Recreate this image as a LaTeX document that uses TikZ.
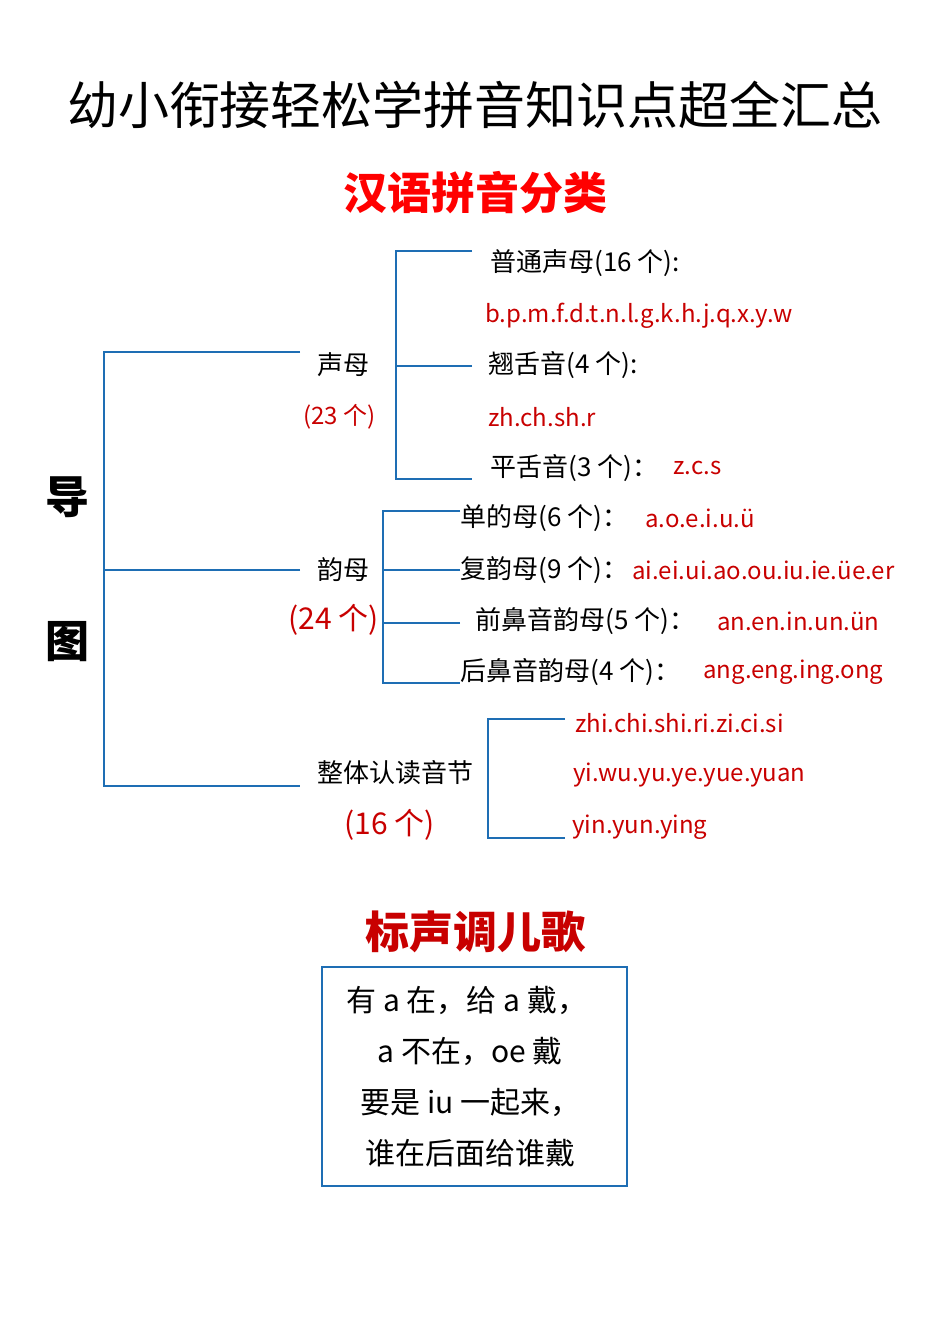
\documentclass[tikz,border=0pt]{standalone}
\usepackage{fontspec}
\setmainfont{Noto Sans CJK SC}
\usetikzlibrary{positioning}
\definecolor{lineblue}{RGB}{30,110,180}
\definecolor{pyred}{RGB}{200,0,0}
\tikzset{
    br/.style={draw=lineblue, line width=1.3pt}, % bracket lines
    t/.style={anchor=west, inner sep=0pt, font=\fontsize{13}{15}\selectfont}, % black labels
    r/.style={style=t, text=pyred, font=\fontsize{12}{14}\selectfont}, % red pinyin
    head/.style={inner sep=0pt, font=\fontsize{22}{26}\selectfont\bfseries, text=pyred}
}
\begin{document}
\begin{tikzpicture}[x=0.5pt, y=-0.5pt]
        \useasboundingbox (0,0) rectangle (950,1344);
        \node[inner sep=0pt, font=\fontsize{25.5}{30}\selectfont] (title) at (475,105)
        {幼小衔接轻松学拼音知识点超全汇总};
        \node[head, text=red] (cls) at (475,193) {汉语拼音分类};
        \node[inner sep=0pt, font=\fontsize{22}{26}\selectfont\bfseries] (dao) at (68,497) {导};
        \node[inner sep=0pt, font=\fontsize{22}{26}\selectfont\bfseries] (tu) at (68,642) {图};

        % first level
        \coordinate (m1) at (300,352);
        \coordinate (m2) at (300,570);
        \coordinate (m3) at (300,786);
        \coordinate (mt) at (104,352);
        \coordinate (mb) at (104,786);
        \draw[br] (m1) -- (mt) -- (mb) -- (m3);
        \draw[br] (m2) -- (m2 -| mt);
        \node[t] (sm) at (317,365) {声母};
        \node[r] (smn) at (303,417) {(23 个)};
        \node[t] (ym) at (317,570) {韵母};
        \node[r, font=\fontsize{15}{17}\selectfont] (ymn) at (288,620) {(24 个)};
        \node[t] (zt) at (317,773) {整体认读音节};
        \node[r, font=\fontsize{15}{17}\selectfont] (ztn) at (344,825) {(16 个)};

        % shengmu
        \coordinate (s1) at (472,251);
        \coordinate (s2) at (472,366);
        \coordinate (s3) at (472,479);
        \draw[br] (s1) -- (396,251) -- (396,479) -- (s3);
        \draw[br] (s2) -- (396,366);
        \node[t] (pt) at (490,263) {普通声母(16 个):};
        \node[r] (ptp) at (485,316) {b.p.m.f.d.t.n.l.g.k.h.j.q.x.y.w};
        \node[t] (qs) at (488,365) {翘舌音(4 个):};
        \node[r] (qsp) at (488,417) {zh.ch.sh.r};
        \node[t] (ps) at (490,468) {平舌音(3 个)：};
        \node[r] (psp) at (673,468) {z.c.s};

        % yunmu
        \coordinate (y1) at (460,511);
        \coordinate (y2) at (460,570);
        \coordinate (y3) at (460,623);
        \coordinate (y4) at (460,683);
        \draw[br] (y1) -- (383,511) -- (383,683) -- (y4);
        \draw[br] (y2) -- (383,570);
        \draw[br] (y3) -- (383,623);
        \node[t] (dy) at (460,518) {单的母(6 个)：};
        \node[r] (dyp) at (645,518) {a.o.e.i.u.ü};
        \node[t] (fy) at (460,570) {复韵母(9 个)：};
        \node[r] (fyp) at (632,570) {ai.ei.ui.ao.ou.iu.ie.üe.er};
        \node[t] (qb) at (475,621) {前鼻音韵母(5 个)：};
        \node[r] (qbp) at (717,621) {an.en.in.un.ün};
        \node[t] (hb) at (460,672) {后鼻音韵母(4 个)：};
        \node[r] (hbp) at (703,672) {ang.eng.ing.ong};

        % zhengti
        \coordinate (z1) at (565,719);
        \coordinate (z2) at (565,838);
        \draw[br] (z1) -- (488,719) -- (488,838) -- (z2);
        \node[r] (zp1) at (575,723) {zhi.chi.shi.ri.zi.ci.si};
        \node[r] (zp2) at (573,775) {yi.wu.yu.ye.yue.yuan};
        \node[r] (zp3) at (572,827) {yin.yun.ying};

        % song
        \node[head] (song) at (475,932) {标声调儿歌};
        \draw[br] (322,967) rectangle (627,1186);
        \node[t, font=\fontsize{15}{17}\selectfont] (l1) at (346,1000) {有 a 在，给 a 戴，};
        \node[t, font=\fontsize{15}{17}\selectfont] (l2) at (377,1051) {a 不在，oe 戴};
        \node[t, font=\fontsize{15}{17}\selectfont] (l3) at (360,1102) {要是 iu 一起来，};
        \node[t, font=\fontsize{15}{17}\selectfont] (l4) at (365,1153) {谁在后面给谁戴};
      \end{tikzpicture}
\end{document}
